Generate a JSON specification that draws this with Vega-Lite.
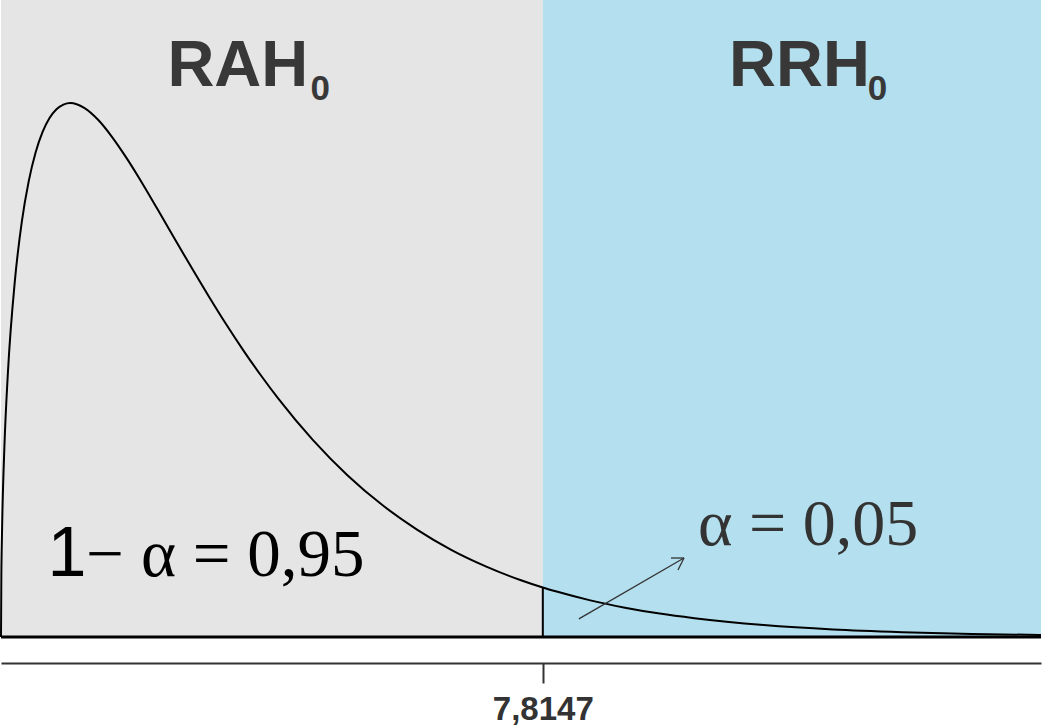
{
  "$schema": "https://vega.github.io/schema/vega-lite/v6.json",
  "width": 1040,
  "height": 637,
  "autosize": {"type": "none"},
  "padding": {"left": 1, "top": 0, "right": 2, "bottom": 91},
  "background": "white",
  "config": {"view": {"stroke": null}},
  "datasets": {
    "zones": [
      {"from": 0, "to": 7.8147, "zone": "RAH0"},
      {"from": 7.8147, "to": 15, "zone": "RRH0"}
    ],
    "curve": [
      {"x": 0, "f": 0},
      {"x": 0.005, "f": 0.0282},
      {"x": 0.01, "f": 0.0397},
      {"x": 0.02, "f": 0.0559},
      {"x": 0.05, "f": 0.0870},
      {"x": 0.1, "f": 0.1200},
      {"x": 0.2, "f": 0.1614},
      {"x": 0.3, "f": 0.1881},
      {"x": 0.4, "f": 0.2066},
      {"x": 0.5, "f": 0.2197},
      {"x": 0.6, "f": 0.2289},
      {"x": 0.7, "f": 0.2352},
      {"x": 0.8, "f": 0.2392},
      {"x": 0.9, "f": 0.2413},
      {"x": 1.0, "f": 0.2420},
      {"x": 1.2, "f": 0.2398},
      {"x": 1.4, "f": 0.2344},
      {"x": 1.6, "f": 0.2267},
      {"x": 1.8, "f": 0.2176},
      {"x": 2.0, "f": 0.2076},
      {"x": 2.25, "f": 0.1943},
      {"x": 2.5, "f": 0.1807},
      {"x": 2.75, "f": 0.1673},
      {"x": 3.0, "f": 0.1542},
      {"x": 3.25, "f": 0.1416},
      {"x": 3.5, "f": 0.1297},
      {"x": 3.75, "f": 0.1185},
      {"x": 4.0, "f": 0.1080},
      {"x": 4.5, "f": 0.0892},
      {"x": 5.0, "f": 0.0732},
      {"x": 5.5, "f": 0.0598},
      {"x": 6.0, "f": 0.0487},
      {"x": 6.5, "f": 0.0394},
      {"x": 7.0, "f": 0.0319},
      {"x": 7.5, "f": 0.0257},
      {"x": 7.8147, "f": 0.0224},
      {"x": 8.0, "f": 0.0207},
      {"x": 8.5, "f": 0.0166},
      {"x": 9.0, "f": 0.0133},
      {"x": 9.5, "f": 0.0106},
      {"x": 10, "f": 0.0085},
      {"x": 11, "f": 0.0054},
      {"x": 12, "f": 0.0034},
      {"x": 13, "f": 0.0022},
      {"x": 14, "f": 0.0014},
      {"x": 15, "f": 0.0009}
    ],
    "critical": [{"x": 7.8147, "f": 0.0224, "base": 0}],
    "arrow": [
      {"xa": 8.335, "ya": 0.0082, "xb": 9.851, "yb": 0.0358},
      {"xa": 9.851, "ya": 0.0358, "xb": 9.663, "yb": 0.0358},
      {"xa": 9.851, "ya": 0.0358, "xb": 9.764, "yb": 0.0304}
    ]
  },
  "encoding": {
    "x": {
      "type": "quantitative",
      "scale": {"domain": [0, 15], "nice": false, "zero": false},
      "axis": {
        "orient": "bottom", "offset": 26, "values": [7.8147],
        "labelExpr": "'7,8147'", "title": null, "grid": false,
        "domainColor": "#333333", "domainWidth": 2,
        "tickColor": "#333333", "tickWidth": 2, "tickSize": 20,
        "labelFont": "Liberation Sans", "labelFontWeight": "bold",
        "labelFontSize": 33, "labelColor": "#333333", "labelPadding": 10
      }
    }
  },
  "layer": [
    {
      "data": {"name": "zones"},
      "mark": {"type": "rect"},
      "encoding": {
        "x": {"field": "from", "type": "quantitative"},
        "x2": {"field": "to"},
        "fill": {
          "field": "zone", "type": "nominal",
          "scale": {"domain": ["RAH0", "RRH0"], "range": ["#e5e5e5", "#b3dfee"]},
          "legend": null
        }
      }
    },
    {
      "data": {"name": "curve"},
      "mark": {"type": "line", "color": "black", "strokeWidth": 2, "interpolate": "monotone"},
      "encoding": {
        "x": {"field": "x", "type": "quantitative"},
        "y": {"field": "f", "type": "quantitative", "scale": {"domain": [0, 0.2887], "nice": false}, "axis": null}
      }
    },
    {
      "data": {"name": "critical"},
      "mark": {"type": "rule", "color": "black", "strokeWidth": 2},
      "encoding": {
        "x": {"field": "x", "type": "quantitative"},
        "y": {"field": "base", "type": "quantitative", "axis": null},
        "y2": {"field": "f"}
      }
    },
    {
      "data": {"values": [{"b": 0}]},
      "mark": {"type": "rule", "color": "black", "strokeWidth": 3},
      "encoding": {
        "y": {"field": "b", "type": "quantitative", "axis": null}
      }
    },
    {
      "data": {"name": "arrow"},
      "mark": {"type": "rule", "color": "#333333", "strokeWidth": 1.3},
      "encoding": {
        "x": {"field": "xa", "type": "quantitative"},
        "y": {"field": "ya", "type": "quantitative", "axis": null},
        "x2": {"field": "xb"},
        "y2": {"field": "yb"}
      }
    },
    {
      "data": {"values": [{"t": "RAH", "x": 2.4, "y": 0.2497}, {"t": "RRH", "x": 10.5, "y": 0.2497}]},
      "mark": {"type": "text", "font": "Liberation Sans", "fontWeight": "bold", "fontSize": 65, "color": "#383838", "align": "left", "baseline": "alphabetic"},
      "encoding": {
        "x": {"field": "x", "type": "quantitative"},
        "y": {"field": "y", "type": "quantitative", "axis": null},
        "text": {"field": "t"}
      }
    },
    {
      "data": {"values": [{"t": "0", "x": 4.465, "y": 0.2434}, {"t": "0", "x": 12.5, "y": 0.2434}]},
      "mark": {"type": "text", "font": "Liberation Sans", "fontWeight": "bold", "fontSize": 35, "color": "#383838", "align": "left", "baseline": "alphabetic"},
      "encoding": {
        "x": {"field": "x", "type": "quantitative"},
        "y": {"field": "y", "type": "quantitative", "axis": null},
        "text": {"field": "t"}
      }
    },
    {
      "data": {"values": [{"t": "1", "x": 1.231, "y": 0.02765}]},
      "mark": {"type": "text", "font": "Liberation Sans", "fontSize": 70, "color": "black", "align": "right", "baseline": "alphabetic"},
      "encoding": {
        "x": {"field": "x", "type": "quantitative"},
        "y": {"field": "y", "type": "quantitative", "axis": null},
        "text": {"field": "t"}
      }
    },
    {
      "data": {"values": [{"t": "− α = 0,95", "x": 1.231, "y": 0.02765}]},
      "mark": {"type": "text", "font": "Liberation Serif", "fontSize": 67, "color": "black", "align": "left", "baseline": "alphabetic"},
      "encoding": {
        "x": {"field": "x", "type": "quantitative"},
        "y": {"field": "y", "type": "quantitative", "axis": null},
        "text": {"field": "t"}
      }
    },
    {
      "data": {"values": [{"t": "α = 0,05", "x": 10.053, "y": 0.0417}]},
      "mark": {"type": "text", "font": "Liberation Serif", "fontSize": 66, "color": "#333333", "align": "left", "baseline": "alphabetic"},
      "encoding": {
        "x": {"field": "x", "type": "quantitative"},
        "y": {"field": "y", "type": "quantitative", "axis": null},
        "text": {"field": "t"}
      }
    }
  ]
}
